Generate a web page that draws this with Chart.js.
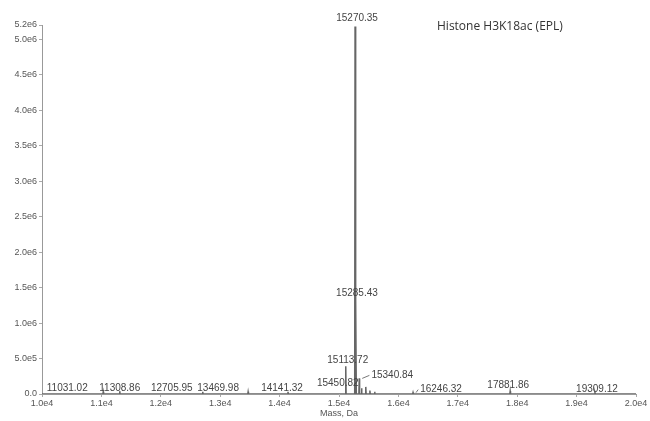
<!DOCTYPE html>
<html>
<head>
<meta charset="utf-8">
<title>Histone H3K18ac (EPL)</title>
<script src="https://cdn.jsdelivr.net/npm/chart.js@4/dist/chart.umd.min.js"></script>
<style>
    body { margin: 0; background: #fff; }
    #wrap { width: 650px; height: 421px; }
</style>
</head>
<body>
<div id="wrap"><canvas id="spectrum" width="650" height="421"></canvas></div>
<script>
// labelled peaks (mass, Da / intensity)
var peakMass = [11031.02, 11308.86, 12705.95, 13469.98, 14141.32, 15113.72, 15270.35,
                15285.43, 15340.84, 15450.82, 16246.32, 17881.86, 19309.12];
var peakIntensity = [0.03e6, 0.04e6, 0.03e6, 0.03e6, 0.03e6, 0.39e6, 5.18e6,
                     1.34e6, 0.22e6, 0.10e6, 0.02e6, 0.04e6, 0.02e6];

// small unlabelled bumps on the tail of the main peak
var minorMass = [15380, 15520, 15600];
var minorIntensity = [0.08e6, 0.05e6, 0.03e6];

var xTicks = [10000, 11000, 12000, 13000, 14000, 15000, 16000, 17000, 18000, 19000, 20000];
var yTicks = [0, 0.5e6, 1.0e6, 1.5e6, 2.0e6, 2.5e6, 3.0e6, 3.5e6, 4.0e6, 4.5e6, 5.0e6, 5.2e6];

// label nudges in px so they sit like the original
var labelDx = [-36, 0, -31, -30, -6, 2, 2, 1, 33, -28, 28, -2, 2];
var labelDy = [-4, -3, -4, -4, -4, -6, -8, -6, -3, -4, -3, -6, -3];

var HALF_WIDTH = 6; // Da

function expLabel(v) {
    if (v === 0) return '0.0';
    return v.toExponential(1).replace('+', '');
}

// stick peaks -> line points
var points = [];
function addPeaks(ms, hs) {
    for (var i = 0; i < ms.length; i++) {
        points.push({x: ms[i] - HALF_WIDTH, y: 0});
        points.push({x: ms[i], y: hs[i]});
        points.push({x: ms[i] + HALF_WIDTH, y: 0});
    }
}
points.push({x: xTicks[0], y: 0});
addPeaks(peakMass, peakIntensity);
addPeaks(minorMass, minorIntensity);
points.push({x: xTicks[xTicks.length - 1], y: 0});
points.sort(function (a, b) { return a.x - b.x; });

var peakLabels = {
    id: 'peakLabels',
    afterDatasetsDraw: function (chart) {
        var ctx = chart.ctx, sx = chart.scales.x, sy = chart.scales.y;
        ctx.save();
        ctx.font = '10px "Liberation Sans", Arial, sans-serif';
        ctx.fillStyle = '#444';
        ctx.textAlign = 'center';
        ctx.textBaseline = 'middle';
        for (var i = 0; i < peakMass.length; i++) {
            var px = sx.getPixelForValue(peakMass[i]);
            var py = sy.getPixelForValue(peakIntensity[i]);
            var tx = px + labelDx[i], ty = py + labelDy[i];
            var txt = peakMass[i].toFixed(2);
            ctx.fillText(txt, tx, ty);
            // leader line for labels pushed far to the right
            if (labelDx[i] > 20) {
                var w = ctx.measureText(txt).width;
                ctx.strokeStyle = '#777';
                ctx.lineWidth = 1;
                ctx.beginPath();
                ctx.moveTo(px + 3, py);
                ctx.lineTo(tx - w / 2 - 2, ty);
                ctx.stroke();
            }
        }
        // title in the top right
        var a = chart.chartArea;
        ctx.font = '12px "Open Sans", sans-serif';
        ctx.fillStyle = '#333';
        ctx.textAlign = 'left';
        ctx.fillText('Histone H3K18ac (EPL)', a.right - 199, a.top + 2);
        ctx.restore();
    }
};

var tickFont = {family: '"Liberation Sans", Arial, sans-serif', size: 9};

new Chart(document.getElementById('spectrum').getContext('2d'), {
    type: 'line',
    data: {
        datasets: [{
            data: points,
            borderColor: '#666',
            borderWidth: 1.5,
            pointRadius: 0,
            tension: 0,
            fill: false
        }]
    },
    options: {
        responsive: false,
        animation: false,
        layout: {padding: {top: 25, right: 14, bottom: 0, left: 0}},
        plugins: {legend: {display: false}, tooltip: {enabled: false}},
        scales: {
            x: {
                type: 'linear',
                min: xTicks[0],
                max: xTicks[xTicks.length - 1],
                afterBuildTicks: function (s) { s.ticks = xTicks.map(function (v) { return {value: v}; }); },
                afterFit: function (s) { s.height = 27; },
                ticks: {
                    font: tickFont, color: '#555', padding: 1, maxRotation: 0, autoSkip: false,
                    callback: function (v) { return expLabel(v); }
                },
                grid: {display: true, drawOnChartArea: false, tickLength: 3, color: '#aaa'},
                border: {color: '#999'},
                title: {display: true, text: 'Mass, Da', font: tickFont, color: '#555', padding: {top: 0, bottom: 2}}
            },
            y: {
                min: 0,
                max: yTicks[yTicks.length - 1],
                afterBuildTicks: function (s) { s.ticks = yTicks.map(function (v) { return {value: v}; }); },
                afterFit: function (s) { s.width = 42; },
                ticks: {
                    font: tickFont, color: '#555', padding: 2, autoSkip: false,
                    callback: function (v) { return expLabel(v); }
                },
                grid: {display: true, drawOnChartArea: false, tickLength: 3, color: '#aaa'},
                border: {color: '#999'}
            }
        }
    },
    plugins: [peakLabels]
});
</script>
</body>
</html>
